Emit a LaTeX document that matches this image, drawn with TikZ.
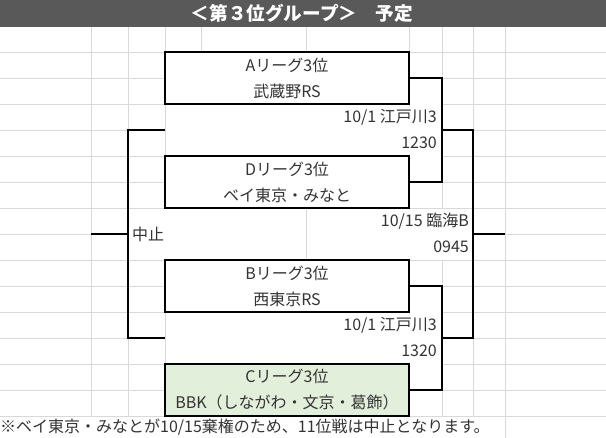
\documentclass[tikz,border=0pt]{standalone}
\usepackage{fontspec}
\usepackage{tikz}
\usetikzlibrary{positioning}
\newfontfamily\jpfont{Noto Sans CJK JP}
\definecolor{headgray}{HTML}{595959}
\definecolor{gridgray}{HTML}{D9D9D9}
\definecolor{cgreen}{HTML}{E2EFDA}
\definecolor{txtgray}{HTML}{333333}

\begin{document}
\begin{tikzpicture}[x=1pt, y=-1pt, node distance=104pt,
  team/.style={draw, line width=1.2pt, minimum width=244pt, minimum height=52pt, inner sep=0pt,
               align=center, text=txtgray, font=\jpfont\fontsize{16}{26}\selectfont},
  lbl/.style={inner sep=0pt, text=txtgray, font=\jpfont\fontsize{16}{18}\selectfont},
  gridline/.style={gridgray, line width=0.8pt},
  wire/.style={line width=1.2pt}]

\useasboundingbox (0,0) rectangle (606,438);
\fill [headgray] (0,0) rectangle (606,27);

\foreach \y in {52,78,104,130,156,182,208,260,286,312,338,364,390,416}
  \draw [gridline] (0,\y) -- (165,\y) (442,\y) -- (606,\y);
\foreach \y in {52,208,260,416}
  \draw [gridline] (409,\y) -- (442,\y);
\draw [gridline] (0,234) -- (128,234) (505,234) -- (606,234);
\foreach \x/\ya/\yb in {91/27/417, 128/27/417, 505/27/438, 165/27/52, 165/104/156, 165/312/364,
                        201/27/52, 306/27/52, 306/208/260, 409/27/52, 442/27/78, 442/182/208,
                        442/260/286, 442/390/416, 473/27/130, 473/338/416}
  \draw [gridline] (\x,\ya) -- (\x,\yb);

\node [text=white, font=\jpfont\bfseries\fontsize{18.6}{20}\selectfont] (title) at (302,13.5) {＜第３位グループ＞　予定};

\node [team                         ] (a) at (287,78) {Aリーグ3位\\武蔵野RS};
\node [team, below of=a             ] (d) {Dリーグ3位\\ベイ東京・みなと};
\node [team, below of=d             ] (b) {Bリーグ3位\\西東京RS};
\node [team, below of=b, fill=cgreen] (c) {Cリーグ3位\\BBK（しながわ・文京・葛飾）};

\node [lbl, anchor=east] (adplace) at (437,117) {10/1 江戸川3};
\node [lbl, anchor=east] (adtime)  at (437,143) {1230};
\node [lbl, anchor=east] (fplace)  at (469,221) {10/15 臨海B};
\node [lbl, anchor=east] (ftime)   at (469,247) {0945};
\node [lbl, anchor=east] (bcplace) at (437,325) {10/1 江戸川3};
\node [lbl, anchor=east] (bctime)  at (437,351) {1320};
\node [lbl, anchor=west] (stop)    at (132,234) {中止};
\node [lbl, anchor=west] (note)    at (0,427)   {※ベイ東京・みなとが10/15棄権のため、11位戦は中止となります。};

\coordinate (adj)  at (442,130);
\coordinate (bcj)  at (442,338);
\coordinate (fj)   at (473,234);
\coordinate (fend) at (505,234);
\coordinate (lj)   at (128,234);
\coordinate (lend) at (91,234);
\coordinate (lt)   at (165,130);
\coordinate (lb)   at (165,338);

\path [draw, wire] (a.east) -| (adj) |- (d.east);
\path [draw, wire] (b.east) -| (bcj) |- (c.east);
\path [draw, wire] (adj)    -| (fj)  |- (bcj);
\path [draw, wire] (fj)     -- (fend);
\path [draw, wire] (lt)     -| (lj)  |- (lb);
\path [draw, wire] (lj)     -- (lend);

\end{tikzpicture}
\end{document}
